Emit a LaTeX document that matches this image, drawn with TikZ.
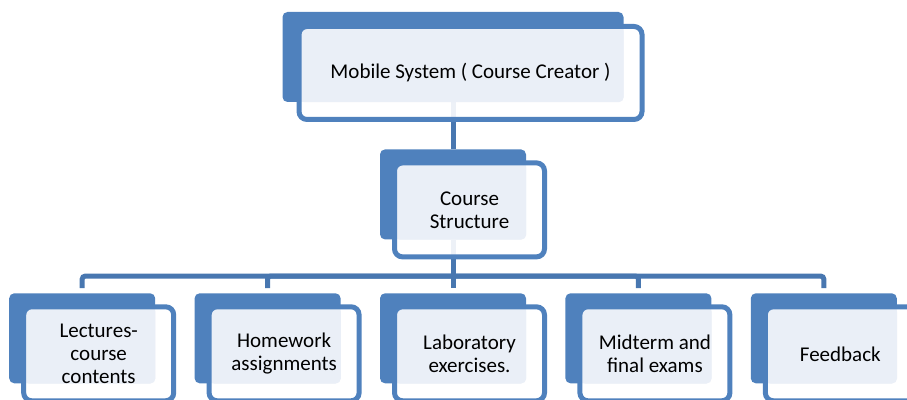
\documentclass[tikz,border=0pt]{standalone}
\usepackage{fontspec}
\setmainfont{Carlito}
\usetikzlibrary{positioning}
\definecolor{boxblue}{HTML}{4F81BD}
\definecolor{linkblue}{HTML}{4877B0}
\definecolor{boxlight}{HTML}{EAEFF7}

\begin{document}
\begin{tikzpicture}[
    x=1pt, y=1pt,
    backbox/.style={rectangle, rounded corners=5pt, fill=boxblue, minimum width=146pt, minimum height=90pt, inner sep=0pt},
    frontbox/.style={rectangle, rounded corners=8pt, draw=boxblue, line width=5pt, fill=white, fill opacity=0.9, text opacity=1,
        minimum width=150pt, minimum height=94pt, inner sep=0pt, align=center,
        font=\fontsize{21}{23}\selectfont,
        path picture={\fill[boxlight, fill opacity=1, rounded corners=5pt] (path picture bounding box.north west) rectangle (#1.south east);}},
    link/.style={draw=linkblue, line width=5pt}
]
    \useasboundingbox (0,0) rectangle (907,399);

    \node[backbox, minimum width=341pt] (sys) at (453,342) {};
    \node[backbox, below=47pt of sys] (crs) {};
    \node[backbox, below=53.5pt of crs] (lab) {};
    \node[backbox, left=39pt of lab] (hw) {};
    \node[backbox, left=39pt of hw] (lec) {};
    \node[backbox, right=39pt of lab] (exam) {};
    \node[backbox, right=39pt of exam] (fb) {};

    \draw[link] (sys) -- (crs);
    \draw[link] (crs.south) -- ++(0,-36.5) coordinate (bus);
    \draw[link, rounded corners=3pt] (bus) -| ([yshift=5pt]lec.north);
    \draw[link, rounded corners=3pt] (bus) -| ([yshift=5pt]hw.north);
    \draw[link] (bus) -- ([yshift=5pt]lab.north);
    \draw[link, rounded corners=3pt] (bus) -| ([yshift=5pt]exam.north);
    \draw[link, rounded corners=3pt] (bus) -| ([yshift=5pt]fb.north);

    \node[frontbox=sys, minimum width=343pt, minimum height=93pt] (sysf) at ([shift={(17.5,-16)}]sys.center) {Mobile System ( Course Creator )};
    \node[frontbox=crs] (crsf) at ([shift={(16.5,-15.5)}]crs.center) {Course\\Structure};
    \node[frontbox=lec] (lecf) at ([shift={(16.5,-15.5)}]lec.center) {Lectures-\\course\\contents};
    \node[frontbox=hw] (hwf) at ([shift={(16.5,-15.5)}]hw.center) {Homework\\assignments};
    \node[frontbox=lab] (labf) at ([shift={(16.5,-15.5)}]lab.center) {Laboratory\\exercises.};
    \node[frontbox=exam] (examf) at ([shift={(16.5,-15.5)}]exam.center) {Midterm and\\final exams};
    \node[frontbox=fb] (fbf) at ([shift={(16.5,-15.5)}]fb.center) {Feedback};
\end{tikzpicture}
\end{document}
